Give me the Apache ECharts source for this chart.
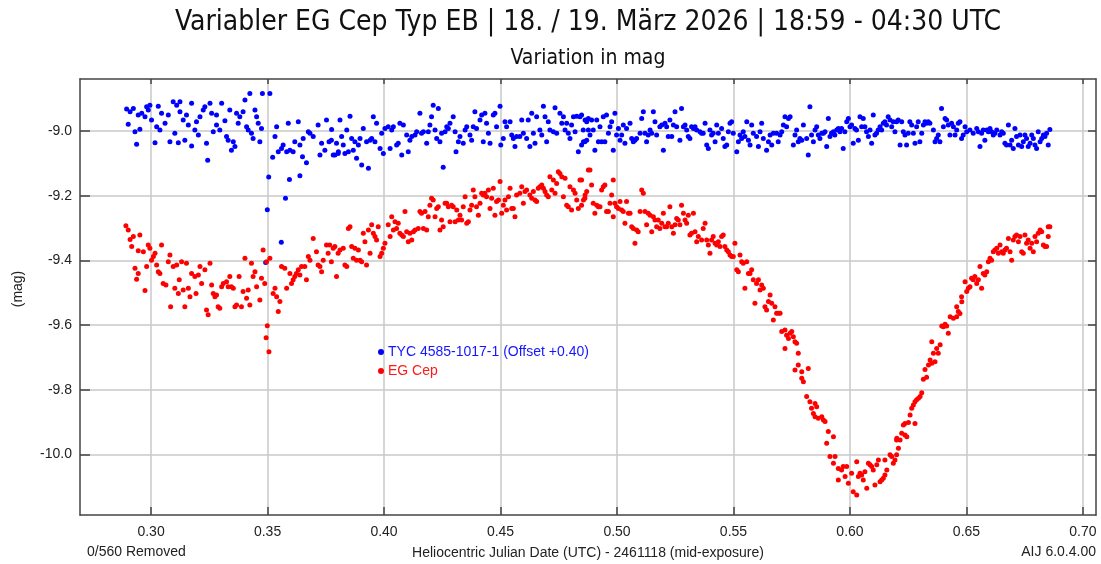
<!DOCTYPE html>
<html lang="de">
<head>
    <meta charset="UTF-8">
    <title>EG Cep</title>
    <script src="https://cdn.jsdelivr.net/npm/echarts@6/dist/echarts.min.js"></script>
    <style>
        html, body { margin: 0; padding: 0; background: #fff; }
        #chart { width: 1101px; height: 564px; }
    </style>
</head>
<body>
<div id="chart"></div>
<script>
    // tick positions
    var xTicks = [0.30, 0.35, 0.40, 0.45, 0.50, 0.55, 0.60, 0.65, 0.70];
    var yTicks = [-10.0, -9.8, -9.6, -9.4, -9.2, -9.0];

    // comparison star, HJD - 2461118 vs mag
    var tycData = [
        [0.2895,-8.932],[0.2910,-8.940],[0.2924,-8.930],[0.2902,-8.979],[0.2938,-9.041],[0.2931,-9.002],[0.2952,-8.994],[0.2945,-8.950],
        [0.2960,-8.945],[0.2974,-8.956],[0.2981,-8.925],[0.2995,-8.920],[0.2988,-8.935],[0.3002,-8.966],[0.3017,-9.036],[0.3031,-8.923],
        [0.3024,-8.987],[0.3038,-8.997],[0.3045,-8.945],[0.3060,-8.976],[0.3074,-8.950],[0.3081,-9.033],[0.3095,-8.909],[0.3102,-9.007],
        [0.3110,-8.920],[0.3117,-9.036],[0.3124,-8.909],[0.3124,-8.940],[0.3138,-8.966],[0.3145,-9.028],[0.3152,-8.950],[0.3160,-8.981],
        [0.3174,-8.914],[0.3174,-9.046],[0.3188,-8.997],[0.3195,-8.971],[0.3203,-9.012],[0.3210,-8.956],[0.3224,-8.935],[0.3231,-8.925],
        [0.3238,-9.038],[0.3243,-9.090],[0.3253,-8.914],[0.3260,-8.945],[0.3267,-9.002],[0.3281,-8.981],[0.3281,-8.950],[0.3295,-8.997],
        [0.3303,-8.914],[0.3317,-8.968],[0.3324,-9.017],[0.3331,-9.028],[0.3345,-9.059],[0.3338,-8.935],[0.3353,-9.033],[0.3360,-9.048],
        [0.3367,-8.945],[0.3374,-8.976],[0.3381,-8.956],[0.3395,-8.940],[0.3403,-8.904],[0.3410,-8.987],[0.3417,-8.997],[0.3424,-8.884],
        [0.3431,-9.007],[0.3438,-9.023],[0.3446,-8.935],[0.3453,-8.956],[0.3460,-8.976],[0.3467,-9.033],[0.3474,-8.992],[0.3478,-8.884],
        [0.3510,-8.884],[0.3492,-9.406],[0.3499,-9.243],[0.3505,-9.142],[0.3539,-8.987],[0.3532,-9.017],[0.3522,-9.081],[0.3546,-9.064],
        [0.3560,-9.054],[0.3559,-9.344],[0.3567,-9.043],[0.3577,-9.208],[0.3582,-9.064],[0.3589,-8.976],[0.3594,-9.150],[0.3596,-9.059],
        [0.3610,-9.064],[0.3617,-9.033],[0.3632,-8.971],[0.3639,-9.043],[0.3639,-9.138],[0.3650,-9.079],[0.3653,-9.023],[0.3667,-9.098],
        [0.3675,-9.002],[0.3682,-9.007],[0.3696,-9.017],[0.3717,-8.981],[0.3725,-9.074],[0.3732,-9.038],[0.3746,-9.059],[0.3753,-8.966],
        [0.3764,-9.033],[0.3774,-9.028],[0.3782,-9.074],[0.3796,-9.038],[0.3803,-9.069],
        [0.3775,-8.995],[0.3789,-9.074],[0.3804,-9.064],[0.3811,-8.966],[0.3818,-9.017],[0.3825,-9.043],[0.3832,-9.069],[0.3840,-8.997],
        [0.3847,-9.064],[0.3854,-8.954],[0.3861,-9.023],[0.3868,-9.059],[0.3875,-9.033],[0.3882,-9.084],[0.3890,-9.043],[0.3897,-9.023],
        [0.3904,-9.105],[0.3911,-8.992],[0.3925,-9.033],[0.3933,-9.115],[0.3940,-9.028],[0.3947,-9.023],[0.3954,-8.956],[0.3961,-9.033],
        [0.3968,-8.976],[0.3983,-9.054],[0.3990,-9.007],[0.3997,-9.069],[0.4004,-8.992],[0.4018,-8.987],[0.4026,-9.054],[0.4033,-8.997],
        [0.4040,-8.987],[0.4054,-9.043],[0.4061,-9.038],[0.4068,-8.976],[0.4076,-9.074],[0.4083,-8.981],[0.4097,-9.012],[0.4104,-9.064],
        [0.4111,-9.028],[0.4119,-9.017],[0.4133,-9.012],[0.4140,-9.002],[0.4154,-8.945],[0.4161,-9.007],[0.4169,-9.002],[0.4183,-9.038],
        [0.4190,-9.002],[0.4197,-8.981],[0.4204,-8.956],[0.4211,-8.920],[0.4219,-8.997],[0.4226,-9.023],[0.4233,-8.930],[0.4240,-9.033],
        [0.4247,-9.007],[0.4254,-9.112],[0.4262,-9.002],[0.4269,-8.987],[0.4276,-8.992],[0.4283,-8.976],[0.4297,-8.956],[0.4305,-9.002],
        [0.4309,-9.064],[0.4319,-9.033],[0.4326,-9.017],[0.4340,-9.038],[0.4348,-8.997],[0.4355,-8.987],[0.4369,-9.012],[0.4376,-9.028],
        [0.4383,-8.987],[0.4390,-8.940],[0.4397,-8.992],[0.4412,-8.966],[0.4419,-8.950],[0.4426,-9.033],[0.4433,-8.945],[0.4440,-8.976],
        [0.4448,-9.007],[0.4455,-9.038],[0.4469,-8.950],[0.4476,-8.945],[0.4483,-8.987],[0.4498,-8.923],[0.4501,-9.043],[0.4512,-9.023],
        [0.4519,-8.971],[0.4526,-8.987],[0.4541,-8.971],[0.4548,-9.012],[0.4555,-9.023],[0.4562,-9.048],[0.4569,-9.017],[0.4583,-9.017],
        [0.4591,-8.966],[0.4598,-9.007],[0.4612,-9.023],[0.4619,-8.966],[0.4626,-9.048],[0.4634,-8.945],[0.4641,-9.007],[0.4648,-9.038],
        [0.4655,-8.956],[0.4669,-8.997],[0.4677,-9.012],[0.4684,-8.923],[0.4691,-8.956],[0.4698,-9.033],[0.4705,-8.971],[0.4712,-8.997],
        [0.4727,-9.002],[0.4734,-8.928],[0.4741,-9.007],[0.4755,-8.945],[0.4763,-8.976],[0.4770,-8.956],[0.4777,-8.997],[0.4784,-8.976],
        [0.4791,-9.007],[0.4798,-9.023],[0.4805,-8.981],[0.4813,-8.956],[0.4820,-9.002],[0.4827,-8.954],[0.4834,-9.064],[0.4841,-8.956],
        [0.4848,-9.043],[0.4856,-9.033],[0.4863,-8.966],[0.4870,-9.028],[0.4877,-8.997],
        [0.4848,-8.950],[0.4855,-8.997],[0.4862,-9.033],[0.4870,-8.971],[0.4877,-8.961],[0.4884,-9.012],[0.4891,-8.966],[0.4898,-8.997],
        [0.4905,-9.059],[0.4913,-8.966],[0.4920,-9.033],[0.4927,-8.987],[0.4934,-9.033],[0.4941,-8.956],[0.4948,-9.033],[0.4955,-8.950],
        [0.4963,-9.007],[0.4970,-8.987],[0.4977,-8.971],[0.4984,-9.059],[0.4991,-8.945],[0.4998,-9.012],[0.5006,-8.992],[0.5013,-9.028],
        [0.5020,-9.012],[0.5027,-8.981],[0.5034,-9.038],[0.5041,-8.992],[0.5056,-8.976],[0.5063,-9.023],[0.5070,-9.033],[0.5077,-9.028],
        [0.5084,-9.023],[0.5099,-9.007],[0.5106,-8.961],[0.5113,-8.940],[0.5120,-9.007],[0.5127,-9.033],[0.5134,-9.012],[0.5142,-8.997],
        [0.5149,-9.007],[0.5156,-8.940],[0.5163,-8.971],[0.5170,-9.012],[0.5184,-8.987],[0.5192,-8.981],[0.5199,-9.059],[0.5206,-8.976],
        [0.5213,-8.987],[0.5220,-9.017],[0.5227,-8.966],[0.5235,-9.017],[0.5242,-8.981],[0.5249,-8.940],[0.5256,-8.987],[0.5270,-9.028],
        [0.5277,-8.930],[0.5285,-8.987],[0.5292,-8.981],[0.5299,-8.997],[0.5306,-9.017],[0.5313,-9.023],[0.5320,-8.987],[0.5328,-8.992],
        [0.5335,-8.987],[0.5342,-8.997],[0.5356,-9.002],[0.5363,-9.007],[0.5370,-9.007],[0.5378,-8.976],[0.5385,-9.043],[0.5392,-9.054],
        [0.5399,-8.997],[0.5406,-9.012],[0.5413,-9.007],[0.5421,-9.033],[0.5428,-8.981],[0.5435,-9.007],[0.5449,-8.992],[0.5456,-9.023],
        [0.5463,-9.048],[0.5471,-9.043],[0.5478,-9.002],[0.5485,-8.976],[0.5492,-8.971],[0.5499,-9.007],[0.5514,-9.064],[0.5521,-9.033],
        [0.5528,-9.012],[0.5535,-9.023],[0.5542,-9.002],[0.5549,-9.017],[0.5557,-8.971],[0.5564,-9.028],[0.5571,-9.043],[0.5578,-8.981],
        [0.5585,-9.007],[0.5599,-9.017],[0.5607,-9.048],[0.5614,-9.002],[0.5621,-8.976],[0.5628,-9.023],[0.5642,-9.059],[0.5650,-9.033],
        [0.5657,-9.012],[0.5664,-9.043],[0.5671,-9.007],[0.5685,-9.007],[0.5692,-9.033],[0.5700,-9.012],[0.5707,-9.002],[0.5714,-8.981],
        [0.5721,-8.956],[0.5728,-8.987],[0.5736,-8.961],[0.5743,-8.956],[0.5757,-9.043],[0.5764,-9.012],[0.5771,-8.997],[0.5778,-9.033],
        [0.5785,-9.023],[0.5793,-9.028],[0.5800,-8.981],[0.5814,-9.023],[0.5821,-9.074],[0.5828,-8.925],[0.5835,-9.012],[0.5843,-9.033],
        [0.5850,-8.997],[0.5857,-8.987],[0.5864,-9.012],[0.5871,-9.023],[0.5879,-9.007],[0.5886,-9.007],[0.5893,-9.002],[0.5900,-9.048],
        [0.5907,-8.961],[0.5914,-9.017],[0.5922,-9.007],[0.5929,-9.002],[0.5943,-8.997],[0.5950,-8.992],
        [0.5921,-9.007],[0.5935,-9.012],[0.5957,-9.002],[0.5964,-8.992],[0.5971,-9.054],[0.5978,-9.002],[0.5986,-8.971],[0.5993,-8.961],
        [0.6000,-8.987],[0.6007,-8.981],[0.6014,-9.038],[0.6021,-8.992],[0.6028,-8.997],[0.6036,-9.028],[0.6043,-8.956],[0.6050,-8.987],
        [0.6057,-8.961],[0.6064,-8.987],[0.6071,-9.002],[0.6079,-9.017],[0.6086,-8.997],[0.6093,-9.038],[0.6100,-8.950],[0.6107,-9.012],
        [0.6114,-9.007],[0.6121,-8.997],[0.6129,-8.987],[0.6136,-8.997],[0.6143,-8.976],[0.6150,-8.971],[0.6157,-8.981],[0.6164,-8.956],
        [0.6172,-8.966],[0.6179,-8.987],[0.6186,-8.971],[0.6193,-9.002],[0.6200,-8.971],[0.6207,-8.966],[0.6215,-9.043],[0.6222,-8.971],
        [0.6229,-9.002],[0.6236,-9.012],[0.6243,-9.043],[0.6250,-9.007],[0.6257,-8.971],[0.6265,-8.981],[0.6272,-9.007],[0.6279,-9.038],
        [0.6286,-8.987],[0.6293,-8.971],[0.6300,-9.033],[0.6308,-9.007],[0.6315,-8.981],[0.6322,-8.971],[0.6329,-8.976],[0.6336,-8.971],
        [0.6343,-8.976],[0.6358,-8.997],[0.6365,-9.033],[0.6372,-9.023],[0.6379,-9.012],[0.6386,-9.033],[0.6393,-8.930],[0.6401,-8.987],
        [0.6408,-8.961],[0.6415,-8.966],[0.6422,-8.981],[0.6429,-9.012],[0.6436,-8.976],[0.6444,-8.987],[0.6451,-9.012],[0.6458,-8.997],
        [0.6465,-8.976],[0.6472,-8.971],[0.6479,-9.023],[0.6486,-9.012],[0.6494,-8.987],[0.6501,-9.002],[0.6515,-8.997],[0.6529,-9.007],
        [0.6544,-8.992],[0.6551,-9.002],[0.6558,-9.048],[0.6565,-9.007],[0.6572,-8.997],[0.6579,-9.028],[0.6587,-8.997],[0.6594,-9.002],
        [0.6601,-8.992],[0.6608,-9.002],[0.6615,-9.012],[0.6622,-9.007],[0.6630,-8.997],[0.6644,-9.012],[0.6651,-9.002],[0.6658,-9.007],
        [0.6665,-9.038],[0.6672,-9.043],[0.6680,-8.981],[0.6687,-9.043],[0.6694,-9.028],[0.6701,-9.054],[0.6708,-8.992],[0.6715,-9.017],
        [0.6723,-9.043],[0.6730,-9.012],[0.6737,-9.048],[0.6744,-9.033],[0.6751,-9.012],[0.6758,-9.023],[0.6765,-9.048],[0.6773,-9.038],
        [0.6780,-9.012],[0.6787,-9.023],[0.6794,-9.043],[0.6801,-9.054],[0.6808,-9.002],[0.6816,-9.033],[0.6823,-9.023],[0.6830,-9.012],
        [0.6837,-9.017],[0.6844,-9.007],[0.6851,-9.043],[0.6858,-8.995]
    ];

    // variable star EG Cep
    var egCepData = [
        [0.2892,-9.293],[0.2902,-9.306],[0.2910,-9.335],[0.2917,-9.357],[0.2924,-9.326],[0.2931,-9.424],[0.2938,-9.458],[0.2945,-9.440],
        [0.2952,-9.321],[0.2945,-9.370],[0.2967,-9.373],[0.2974,-9.493],[0.2981,-9.419],[0.2988,-9.352],[0.2995,-9.362],[0.3002,-9.399],
        [0.3010,-9.388],[0.3017,-9.378],[0.3024,-9.414],[0.3031,-9.435],[0.3038,-9.440],[0.3045,-9.352],[0.3052,-9.471],[0.3064,-9.476],
        [0.3074,-9.404],[0.3081,-9.383],[0.3084,-9.543],[0.3095,-9.419],[0.3102,-9.486],[0.3110,-9.414],[0.3117,-9.502],[0.3121,-9.460],
        [0.3131,-9.404],[0.3138,-9.491],[0.3145,-9.543],[0.3152,-9.409],[0.3160,-9.486],[0.3167,-9.512],[0.3174,-9.440],[0.3188,-9.450],
        [0.3193,-9.502],[0.3203,-9.445],[0.3210,-9.419],[0.3217,-9.471],[0.3231,-9.429],[0.3238,-9.553],[0.3245,-9.568],[0.3253,-9.409],
        [0.3260,-9.476],[0.3267,-9.502],[0.3274,-9.512],[0.3281,-9.507],[0.3288,-9.543],[0.3295,-9.548],[0.3303,-9.481],[0.3310,-9.471],
        [0.3324,-9.466],[0.3331,-9.481],[0.3338,-9.450],[0.3345,-9.481],[0.3353,-9.486],[0.3360,-9.543],[0.3367,-9.538],[0.3378,-9.450],
        [0.3388,-9.543],[0.3395,-9.496],[0.3403,-9.393],[0.3410,-9.517],[0.3417,-9.491],[0.3424,-9.538],[0.3431,-9.409],[0.3438,-9.450],
        [0.3446,-9.435],[0.3453,-9.481],[0.3467,-9.522],[0.3474,-9.455],[0.3481,-9.368],[0.3488,-9.471],[0.3496,-9.404],[0.3499,-9.602],
        [0.3494,-9.639],[0.3506,-9.682],[0.3510,-9.393],[0.3524,-9.502],[0.3532,-9.486],[0.3539,-9.512],[0.3546,-9.558],[0.3553,-9.527],
        [0.3560,-9.419],[0.3574,-9.424],[0.3582,-9.486],[0.3596,-9.440],[0.3603,-9.471],[0.3610,-9.460],[0.3617,-9.450],[0.3624,-9.440],
        [0.3632,-9.429],[0.3639,-9.445],[0.3646,-9.419],[0.3660,-9.419],[0.3667,-9.460],[0.3675,-9.388],[0.3682,-9.399],[0.3696,-9.332],
        [0.3710,-9.373],[0.3717,-9.414],[0.3725,-9.419],[0.3732,-9.435],[0.3739,-9.399],[0.3753,-9.352],[0.3760,-9.378],[0.3767,-9.352],
        [0.3774,-9.404],[0.3782,-9.362],[0.3796,-9.450],[0.3803,-9.378],
        [0.3789,-9.357],[0.3811,-9.368],[0.3825,-9.362],[0.3832,-9.414],[0.3840,-9.419],[0.3847,-9.301],[0.3854,-9.296],[0.3861,-9.357],
        [0.3868,-9.393],[0.3875,-9.362],[0.3882,-9.399],[0.3890,-9.368],[0.3897,-9.399],[0.3904,-9.404],[0.3911,-9.316],[0.3918,-9.342],
        [0.3925,-9.414],[0.3933,-9.306],[0.3940,-9.378],[0.3947,-9.290],[0.3954,-9.316],[0.3961,-9.326],[0.3968,-9.337],[0.3975,-9.296],
        [0.3983,-9.388],[0.3990,-9.378],[0.3997,-9.362],[0.4004,-9.347],[0.4018,-9.290],[0.4026,-9.326],[0.4033,-9.265],[0.4040,-9.306],
        [0.4047,-9.280],[0.4054,-9.301],[0.4061,-9.285],[0.4068,-9.316],[0.4076,-9.321],[0.4083,-9.326],[0.4090,-9.249],[0.4097,-9.311],
        [0.4104,-9.342],[0.4111,-9.316],[0.4119,-9.337],[0.4126,-9.311],[0.4133,-9.306],[0.4147,-9.301],[0.4154,-9.249],[0.4161,-9.254],
        [0.4169,-9.301],[0.4176,-9.249],[0.4183,-9.306],[0.4190,-9.265],[0.4197,-9.229],[0.4204,-9.208],[0.4211,-9.213],[0.4219,-9.265],
        [0.4226,-9.239],[0.4233,-9.234],[0.4240,-9.306],[0.4247,-9.275],[0.4254,-9.296],[0.4262,-9.223],[0.4269,-9.223],[0.4276,-9.234],
        [0.4283,-9.280],[0.4290,-9.229],[0.4297,-9.234],[0.4305,-9.280],[0.4312,-9.244],[0.4319,-9.275],[0.4326,-9.260],[0.4333,-9.275],
        [0.4340,-9.234],[0.4348,-9.203],[0.4355,-9.285],[0.4362,-9.280],[0.4369,-9.244],[0.4376,-9.229],[0.4383,-9.182],[0.4390,-9.203],
        [0.4397,-9.234],[0.4405,-9.260],[0.4412,-9.223],[0.4419,-9.192],[0.4426,-9.198],[0.4433,-9.192],[0.4440,-9.203],[0.4448,-9.182],
        [0.4455,-9.239],[0.4462,-9.208],[0.4469,-9.177],[0.4476,-9.260],[0.4483,-9.218],[0.4491,-9.213],[0.4498,-9.156],[0.4505,-9.254],
        [0.4512,-9.229],[0.4519,-9.213],[0.4526,-9.244],[0.4534,-9.203],[0.4541,-9.177],[0.4548,-9.239],[0.4555,-9.239],[0.4562,-9.265],
        [0.4569,-9.198],[0.4583,-9.192],[0.4591,-9.172],[0.4598,-9.223],[0.4605,-9.187],[0.4612,-9.182],[0.4626,-9.198],[0.4634,-9.208],
        [0.4641,-9.187],[0.4648,-9.213],[0.4655,-9.218],[0.4662,-9.177],[0.4669,-9.172],[0.4677,-9.167],[0.4684,-9.177],[0.4691,-9.187],
        [0.4698,-9.198],[0.4705,-9.203],[0.4712,-9.141],[0.4720,-9.182],[0.4727,-9.151],[0.4734,-9.192],[0.4741,-9.162],[0.4748,-9.126],
        [0.4755,-9.131],[0.4763,-9.141],[0.4770,-9.203],[0.4777,-9.146],[0.4784,-9.229],[0.4791,-9.234],[0.4798,-9.172],[0.4805,-9.244],
        [0.4813,-9.182],[0.4820,-9.192],[0.4827,-9.213],[0.4834,-9.239],[0.4841,-9.151],[0.4848,-9.229],[0.4856,-9.213],[0.4863,-9.198],
        [0.4870,-9.187],[0.4877,-9.120],
        [0.4848,-9.151],[0.4862,-9.208],[0.4884,-9.120],[0.4891,-9.167],[0.4898,-9.223],[0.4905,-9.254],[0.4913,-9.229],[0.4920,-9.234],
        [0.4927,-9.234],[0.4934,-9.182],[0.4941,-9.172],[0.4948,-9.167],[0.4955,-9.249],[0.4963,-9.249],[0.4970,-9.223],[0.4977,-9.198],
        [0.4984,-9.151],[0.4984,-9.265],[0.4991,-9.223],[0.4998,-9.234],[0.5006,-9.239],[0.5013,-9.218],[0.5020,-9.244],[0.5027,-9.249],
        [0.5034,-9.285],[0.5041,-9.218],[0.5049,-9.254],[0.5056,-9.254],[0.5063,-9.296],[0.5070,-9.301],[0.5077,-9.347],[0.5084,-9.306],
        [0.5091,-9.311],[0.5099,-9.249],[0.5106,-9.182],[0.5113,-9.192],[0.5120,-9.249],[0.5127,-9.290],[0.5134,-9.254],[0.5142,-9.260],
        [0.5149,-9.311],[0.5156,-9.265],[0.5163,-9.275],[0.5170,-9.296],[0.5177,-9.275],[0.5184,-9.301],[0.5192,-9.285],[0.5199,-9.254],
        [0.5206,-9.296],[0.5213,-9.296],[0.5220,-9.285],[0.5227,-9.234],[0.5235,-9.296],[0.5242,-9.316],[0.5249,-9.290],[0.5256,-9.270],
        [0.5263,-9.275],[0.5270,-9.290],[0.5277,-9.229],[0.5285,-9.254],[0.5292,-9.275],[0.5299,-9.285],[0.5306,-9.260],[0.5313,-9.321],
        [0.5320,-9.316],[0.5328,-9.254],[0.5335,-9.311],[0.5342,-9.342],[0.5349,-9.326],[0.5363,-9.337],[0.5370,-9.301],[0.5378,-9.285],
        [0.5385,-9.337],[0.5392,-9.352],[0.5399,-9.378],[0.5406,-9.337],[0.5413,-9.326],[0.5421,-9.347],[0.5428,-9.352],[0.5435,-9.342],
        [0.5442,-9.357],[0.5449,-9.326],[0.5456,-9.321],[0.5463,-9.357],[0.5471,-9.368],[0.5478,-9.373],[0.5485,-9.383],[0.5492,-9.388],
        [0.5499,-9.388],[0.5506,-9.347],[0.5514,-9.429],[0.5521,-9.435],[0.5528,-9.383],[0.5535,-9.404],[0.5542,-9.409],[0.5549,-9.486],
        [0.5557,-9.404],[0.5564,-9.440],[0.5571,-9.440],[0.5578,-9.429],[0.5585,-9.460],[0.5592,-9.532],[0.5599,-9.471],[0.5607,-9.460],
        [0.5614,-9.491],[0.5621,-9.476],[0.5628,-9.486],[0.5635,-9.543],[0.5642,-9.553],[0.5650,-9.527],[0.5657,-9.507],[0.5664,-9.532],
        [0.5671,-9.584],[0.5678,-9.543],[0.5685,-9.563],[0.5692,-9.563],[0.5700,-9.563],
        [0.5707,-9.620],[0.5721,-9.615],[0.5728,-9.631],[0.5736,-9.641],[0.5743,-9.625],[0.5750,-9.620],[0.5757,-9.636],[0.5764,-9.651],
        [0.5771,-9.656],[0.5721,-9.672],[0.5778,-9.687],[0.5778,-9.723],[0.5764,-9.739],[0.5793,-9.744],[0.5793,-9.764],[0.5800,-9.775],
        [0.5821,-9.734],[0.5814,-9.821],[0.5828,-9.837],[0.5835,-9.857],[0.5850,-9.842],[0.5857,-9.852],[0.5843,-9.873],[0.5850,-9.883],
        [0.5864,-9.888],[0.5879,-9.883],[0.5886,-9.893],[0.5893,-9.898],[0.5907,-9.929],[0.5900,-9.965],[0.5929,-9.945],[0.5914,-10.006],
        [0.5936,-10.006],[0.5929,-10.027],[0.5950,-10.043],[0.5971,-10.037],[0.5986,-10.037],[0.5964,-10.048],[0.5950,-10.079],[0.5979,-10.068],
        [0.5993,-10.089],[0.6007,-10.058],[0.6014,-10.115],[0.6029,-10.125],[0.6029,-10.022],[0.6036,-10.068],[0.6043,-10.058],[0.6050,-10.063],
        [0.6057,-10.079],[0.6064,-10.053],[0.6072,-10.104],[0.6079,-10.027],[0.6086,-10.032],[0.6093,-10.037],[0.6100,-10.048],[0.6107,-10.094],
        [0.6115,-10.032],[0.6122,-10.017],[0.6129,-10.084],[0.6136,-10.079],[0.6143,-10.073],[0.6150,-10.063],[0.6158,-10.048],[0.6150,-10.017],
        [0.6172,-10.001],[0.6179,-10.006],[0.6186,-10.027],[0.6193,-10.017],[0.6200,-10.001],[0.6208,-9.981],[0.6215,-9.955],[0.6200,-9.955],
        [0.6201,-9.950],[0.6222,-9.934],[0.6236,-9.940],[0.6244,-9.945],[0.6229,-9.909],[0.6236,-9.904],[0.6251,-9.901],[0.6279,-9.904],
        [0.6258,-9.878],[0.6265,-9.857],[0.6272,-9.847],[0.6279,-9.837],[0.6286,-9.831],[0.6294,-9.826],[0.6301,-9.821],[0.6308,-9.809],
        [0.6315,-9.767],[0.6329,-9.761],[0.6322,-9.737],[0.6337,-9.723],[0.6344,-9.708],[0.6351,-9.718],[0.6365,-9.713],[0.6358,-9.687],
        [0.6379,-9.687],[0.6372,-9.672],[0.6387,-9.661],[0.6351,-9.651],[0.6422,-9.625],[0.6401,-9.605],[0.6408,-9.597],[0.6394,-9.603],
        [0.6415,-9.603],[0.6430,-9.574],[0.6444,-9.579],[0.6458,-9.574],[0.6465,-9.558],[0.6472,-9.564],[0.6458,-9.543],[0.6480,-9.528],
        [0.6479,-9.512],[0.6494,-9.466],[0.6501,-9.496],[0.6508,-9.486],[0.6515,-9.481],[0.6522,-9.455],[0.6529,-9.460],[0.6536,-9.450],
        [0.6544,-9.471],[0.6551,-9.460],[0.6558,-9.419],[0.6565,-9.486],[0.6572,-9.440],[0.6579,-9.445],[0.6587,-9.435],[0.6594,-9.404],
        [0.6601,-9.393],[0.6608,-9.399],[0.6615,-9.373],[0.6622,-9.368],[0.6630,-9.362],[0.6637,-9.378],[0.6644,-9.352],[0.6651,-9.373],
        [0.6658,-9.378],[0.6665,-9.368],[0.6672,-9.362],[0.6680,-9.332],[0.6687,-9.373],[0.6694,-9.399],[0.6701,-9.337],[0.6708,-9.326],
        [0.6715,-9.321],[0.6723,-9.342],[0.6730,-9.326],[0.6737,-9.373],[0.6744,-9.378],[0.6751,-9.321],[0.6758,-9.347],[0.6765,-9.337],
        [0.6773,-9.362],[0.6780,-9.347],[0.6787,-9.373],[0.6794,-9.326],[0.6801,-9.342],[0.6808,-9.316],[0.6816,-9.306],[0.6823,-9.311],
        [0.6830,-9.352],[0.6837,-9.357],[0.6844,-9.357],[0.6851,-9.296],[0.6858,-9.296],[0.6851,-9.326]
    ];

    var chart = echarts.init(document.getElementById('chart'), null, {renderer: 'canvas'});

    var sansFont = "'Liberation Sans', Arial, sans-serif";
    var titleFont = "'DejaVu Sans Condensed', 'Liberation Sans Narrow', 'DejaVu Sans', sans-serif";
    var axisColor = '#444';
    var gridColor = '#c8c8c8';

    function xAxisDef(pos, withLabels) {
        return {
            type: 'value',
            position: pos,
            min: 0.2695,
            max: 0.7056,
            axisLine: {show: true, onZero: false, lineStyle: {color: axisColor, width: 1.5}},
            axisTick: {show: true, inside: true, length: pos === 'top' ? 5 : 8, customValues: xTicks,
                lineStyle: {color: axisColor, width: 1.5}},
            axisLabel: {show: withLabels, customValues: xTicks, margin: 10, fontSize: 14, color: '#222',
                fontFamily: sansFont, formatter: function (v) { return v.toFixed(2); }},
            splitLine: {show: withLabels, lineStyle: {color: gridColor, width: 1.5}},
            name: withLabels ? 'Heliocentric Julian Date (UTC) - 2461118 (mid-exposure)' : '',
            nameLocation: 'middle',
            nameGap: 31,
            nameTextStyle: {fontSize: 14, color: '#222', fontFamily: sansFont}
        };
    }

    function yAxisDef(pos, withLabels) {
        return {
            type: 'value',
            position: pos,
            min: -10.187,
            max: -8.839,
            axisLine: {show: true, onZero: false, lineStyle: {color: axisColor, width: 1.5}},
            axisTick: {show: true, inside: true, length: pos === 'left' ? 10 : 8, customValues: yTicks,
                lineStyle: {color: axisColor, width: 1.5}},
            axisLabel: {show: withLabels, customValues: yTicks, margin: 8, fontSize: 14, color: '#222',
                fontFamily: sansFont, formatter: function (v) { return v.toFixed(1); }},
            splitLine: {show: withLabels, lineStyle: {color: gridColor, width: 1.5}}
        };
    }

    var option = {
        animation: false,
        backgroundColor: '#fff',
        grid: {left: 80, right: 5, top: 79, bottom: 49, containLabel: false, outerBoundsMode: 'none'},
        xAxis: [xAxisDef('bottom', true), xAxisDef('top', false)],
        yAxis: [yAxisDef('left', true), yAxisDef('right', false)],
        legend: {
            orient: 'vertical',
            left: 373,
            top: 340,
            itemWidth: 6,
            itemHeight: 6,
            itemGap: 5,
            icon: 'circle',
            textStyle: {fontSize: 14, fontFamily: sansFont, padding: [0, 0, 0, -1]},
            data: [
                {name: 'TYC 4585-1017-1 (Offset +0.40)', textStyle: {color: '#1515ff'}},
                {name: 'EG Cep', textStyle: {color: '#ff1a1a'}}
            ]
        },
        graphic: [
            {type: 'text', x: 588, y: 23, style: {text: 'Variabler EG Cep Typ EB | 18. / 19. März 2026 | 18:59 - 04:30 UTC',
                font: '28px ' + titleFont, fill: '#111', textAlign: 'center', textVerticalAlign: 'middle'}},
            {type: 'text', x: 588, y: 59, style: {text: 'Variation in mag',
                font: '21px ' + titleFont, fill: '#111', textAlign: 'center', textVerticalAlign: 'middle'}},
            {type: 'text', x: 18, y: 289, rotation: Math.PI / 2, style: {text: '(mag)',
                font: '14px ' + sansFont, fill: '#222', textAlign: 'center', textVerticalAlign: 'middle'}},
            {type: 'text', x: 87, y: 552, style: {text: '0/560 Removed',
                font: '14px ' + sansFont, fill: '#222', textAlign: 'left', textVerticalAlign: 'middle'}},
            {type: 'text', x: 1096, y: 552, style: {text: 'AIJ 6.0.4.00',
                font: '14px ' + sansFont, fill: '#222', textAlign: 'right', textVerticalAlign: 'middle'}}
        ],
        series: [
            {
                name: 'TYC 4585-1017-1 (Offset +0.40)',
                type: 'scatter',
                xAxisIndex: 0,
                yAxisIndex: 0,
                symbol: 'circle',
                symbolSize: 5,
                itemStyle: {color: '#0000ff', opacity: 1},
                data: tycData
            },
            {
                name: 'EG Cep',
                type: 'scatter',
                xAxisIndex: 0,
                yAxisIndex: 0,
                symbol: 'circle',
                symbolSize: 5,
                itemStyle: {color: '#ff0000', opacity: 1},
                data: egCepData
            }
        ]
    };

    chart.setOption(option);
</script>
</body>
</html>
